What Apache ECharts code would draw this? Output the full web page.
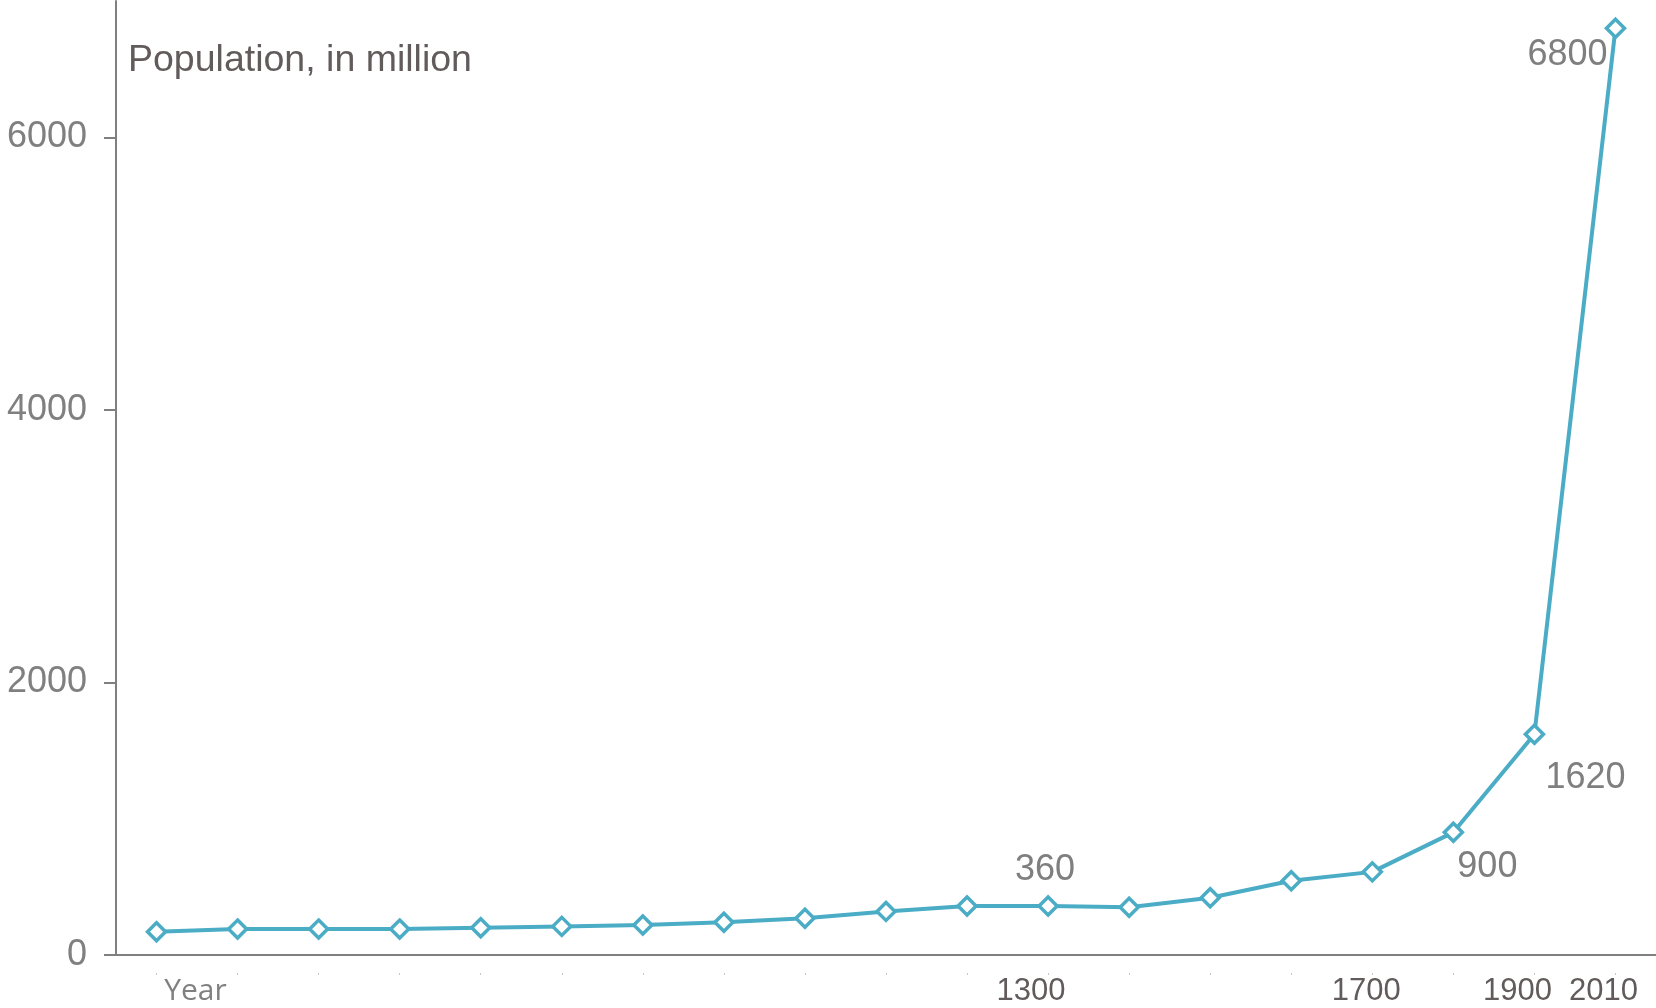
<!DOCTYPE html>
<html>
<head>
<meta charset="utf-8">
<script src="https://cdn.jsdelivr.net/npm/echarts@6/dist/echarts.min.js"></script>
<style>
  html, body { margin: 0; padding: 0; background: #ffffff; }
  #chart { width: 1656px; height: 1008px; }
</style>
</head>
<body>
<div id="chart"></div>
<script>
// ---- data ----
const categories = ['Year', '', '', '', '', '', '', '', '', '', '', '1300', '', '', '', '1700', '', '1900', '2010'];
const population = [170, 190, 190, 190, 200, 210, 220, 240, 270, 320, 360, 360, 350, 420, 545, 610, 900, 1620, 6800];
const yTicks = [0, 2000, 4000, 6000];
const labeledIndex = [11, 16, 17, 18];
const titleText = 'Population, in million';

// ---- styling (not data) ----
const labelOffsets = { 11: [-3, -36], 16: [34, 35], 17: [51, 44], 18: [-48, 27] };
const xLabelStyle = { '1300': 'a', '1700': 'b', '1900': 'a', '2010': 'c' };
const LINE = '#4BACC6';

const seriesData = population.map((v, i) => {
  const item = { value: v };
  if (labeledIndex.includes(i)) {
    item.label = {
      show: true,
      position: 'inside',
      offset: labelOffsets[i],
      formatter: '{c}',
      color: '#7f7f7f',
      fontSize: 36,
      fontFamily: 'Liberation Sans, Arial, sans-serif'
    };
  }
  return item;
});

const numStyle = (padRight) => ({
  fontFamily: 'Liberation Sans, Arial, sans-serif', fontSize: 31, color: '#625b5b', padding: [0, padRight, 0, 0]
});

const chart = echarts.init(document.getElementById('chart'), null, { renderer: 'canvas' });
chart.setOption({
  animation: false,
  backgroundColor: '#ffffff',
  title: {
    text: titleText,
    left: 128,
    top: 42,
    padding: 0,
    textStyle: {
      color: '#625b5b',
      fontSize: 37.5,
      fontWeight: 'normal',
      fontFamily: 'Liberation Sans, Arial, sans-serif'
    }
  },
  grid: { left: 116, top: 1, width: 1544, bottom: 53, containLabel: false },
  xAxis: [
    {
      type: 'category',
      data: categories,
      boundaryGap: true,
      position: 'bottom',
      axisLine: { show: true, lineStyle: { color: '#808080', width: 2 } },
      axisTick: { show: false },
      axisLabel: {
        show: true,
        interval: 0,
        margin: 21,
        formatter: (v) => v === 'Year' ? '{y|' + v + '}' : (v ? '{' + (xLabelStyle[v] || 'a') + '|' + v + '}' : ''),
        rich: {
          y: { fontFamily: 'Open Sans, sans-serif', fontSize: 30, color: '#808080', padding: [0, 0, 0, 78] },
          a: numStyle(34),
          b: numStyle(12),
          c: numStyle(24)
        }
      },
      splitLine: { show: false }
    },
    {
      type: 'category',
      data: categories,
      boundaryGap: true,
      position: 'bottom',
      offset: 18,
      axisLine: { show: false },
      axisTick: { show: true, alignWithLabel: true, interval: 0, length: 2, lineStyle: { color: '#c8c8c8', width: 1 } },
      axisLabel: { show: false },
      splitLine: { show: false }
    }
  ],
  yAxis: {
    type: 'value',
    min: 0,
    max: 7000,
    interval: 1000,
    axisLine: { show: true, lineStyle: { color: '#808080', width: 2 } },
    axisTick: { show: true, length: 12, customValues: yTicks, lineStyle: { color: '#808080', width: 2 } },
    axisLabel: {
      show: true,
      customValues: yTicks,
      formatter: (v) => String(v),
      margin: 29,
      color: '#808080',
      fontSize: 36,
      fontFamily: 'Liberation Sans, Arial, sans-serif',
      padding: [14, 0, 0, 0]
    },
    splitLine: { show: false }
  },
  series: [{
    type: 'line',
    xAxisIndex: 0,
    data: seriesData,
    symbol: 'diamond',
    symbolSize: 18,
    showAllSymbol: true,
    lineStyle: { color: LINE, width: 4 },
    itemStyle: { color: '#ffffff', borderColor: LINE, borderWidth: 3.5 },
    label: { show: false },
    emphasis: { disabled: true }
  }]
});
</script>
</body>
</html>
